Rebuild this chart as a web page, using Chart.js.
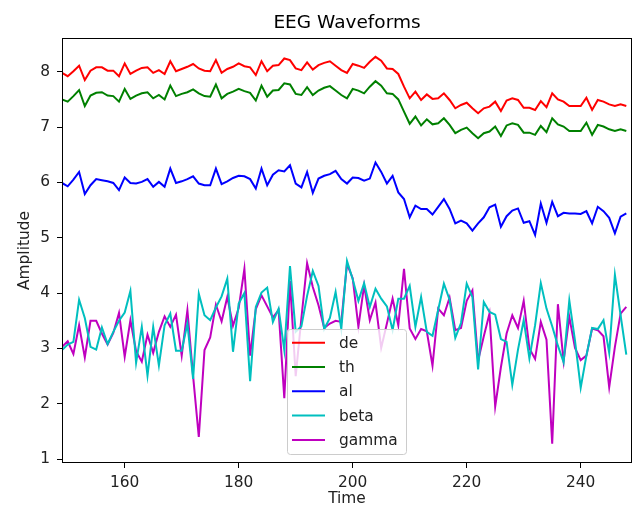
<!DOCTYPE html>
<html>
<head>
<meta charset="utf-8">
<script src="https://cdn.jsdelivr.net/npm/chart.js@4"></script>
<style>
  html, body { margin: 0; padding: 0; background: #fff; }
  #wrap { width: 639px; height: 511px; }
</style>
</head>
<body>
<div id="wrap"><canvas id="chart-eeg" width="639" height="511"></canvas></div>
<script>
// EEG waveforms, values

const tempo = [
  149,150,151,152,153,154,155,156,157,158,159,160,161,162,163,164,165,166,167,168,
  169,170,171,172,173,174,175,176,177,178,179,180,181,182,183,184,185,186,187,188,
  189,190,191,192,193,194,195,196,197,198,199,200,201,202,203,204,205,206,207,208,
  209,210,211,212,213,214,215,216,217,218,219,220,221,222,223,224,225,226,227,228,
  229,230,231,232,233,234,235,236,237,238,239,240,241,242,243,244,245,246,247,248
]

const de = [
  7.98,7.92,8.01,8.11,7.85,8.02,8.08,8.08,8.02,8.02,7.92,8.15,7.96,8.02,8.07,8.08,7.98,8.03,7.96,8.19,
  8.01,8.05,8.09,8.14,8.06,8.02,8.01,8.21,7.98,8.05,8.09,8.15,8.10,8.08,7.94,8.19,8.01,8.11,8.12,8.24,
  8.21,8.06,8.03,8.17,8.04,8.12,8.16,8.19,8.11,8.03,7.98,8.14,8.11,8.07,8.18,8.27,8.20,8.06,8.05,7.96,
  7.73,7.52,7.64,7.49,7.59,7.51,7.52,7.61,7.49,7.34,7.40,7.44,7.34,7.25,7.34,7.37,7.46,7.29,7.48,7.52,
  7.49,7.35,7.35,7.31,7.47,7.36,7.61,7.50,7.46,7.38,7.38,7.38,7.53,7.31,7.49,7.46,7.41,7.38,7.41,7.38
]

const th = [
  7.50,7.46,7.56,7.67,7.38,7.57,7.62,7.63,7.57,7.56,7.46,7.69,7.51,7.57,7.61,7.63,7.52,7.58,7.50,7.75,
  7.56,7.60,7.63,7.68,7.61,7.56,7.55,7.77,7.52,7.60,7.64,7.69,7.65,7.62,7.48,7.75,7.55,7.66,7.67,7.79,
  7.77,7.60,7.58,7.72,7.58,7.66,7.71,7.74,7.66,7.58,7.52,7.69,7.66,7.61,7.73,7.83,7.75,7.61,7.60,7.50,
  7.28,7.06,7.19,7.03,7.14,7.05,7.07,7.16,7.04,6.89,6.95,6.99,6.89,6.80,6.89,6.92,7.01,6.84,7.03,7.07,
  7.04,6.90,6.90,6.86,7.02,6.91,7.16,7.05,7.01,6.93,6.93,6.93,7.08,6.86,7.04,7.01,6.96,6.93,6.96,6.93
]

const al = [
  5.99,5.93,6.05,6.19,5.79,5.95,6.06,6.04,6.02,5.99,5.86,6.09,5.99,5.98,6.01,6.06,5.92,6.01,5.92,6.25,
  5.99,6.02,6.06,6.11,5.98,5.95,5.95,6.25,5.97,6.02,6.08,6.12,6.11,6.06,5.89,6.25,5.95,6.14,6.22,6.20,
  6.31,5.98,5.91,6.19,5.81,6.07,6.12,6.15,6.21,6.06,5.98,6.09,6.08,6.03,6.07,6.36,6.19,5.98,6.12,5.82,
  5.70,5.37,5.58,5.52,5.52,5.42,5.56,5.70,5.52,5.26,5.31,5.26,5.13,5.26,5.37,5.55,5.60,5.20,5.39,5.49,
  5.53,5.27,5.30,5.05,5.62,5.27,5.65,5.39,5.45,5.44,5.44,5.43,5.48,5.26,5.56,5.48,5.36,5.08,5.38,5.44
]

const beta = [
  2.97,3.07,3.12,3.88,3.55,3.03,2.98,3.38,3.08,3.30,3.50,3.65,4.04,2.74,3.39,2.51,3.39,2.69,3.42,3.63,
  2.96,2.96,3.45,2.45,3.99,3.60,3.51,3.74,3.94,4.26,2.94,3.81,4.00,2.41,3.75,4.01,4.10,3.48,3.72,2.97,
  4.49,3.30,3.40,3.95,4.40,4.13,3.35,3.55,4.02,3.35,4.58,4.25,3.86,4.18,3.75,4.08,3.90,3.76,3.33,3.90,
  3.90,4.13,3.39,3.93,3.30,3.23,3.70,4.17,3.88,3.19,3.46,4.17,3.93,2.62,3.84,3.66,3.61,3.17,3.12,2.34,
  2.98,3.51,2.82,3.42,4.18,3.72,3.40,3.05,2.75,3.87,3.14,2.29,2.87,3.37,3.35,3.51,2.92,4.33,3.60,2.89
]

const gamma = [
  3.03,3.13,2.90,3.42,2.84,3.50,3.50,3.27,3.07,3.28,3.64,2.85,3.51,2.95,2.76,3.25,2.92,3.30,3.58,3.39,
  3.61,2.87,3.69,2.50,1.40,2.97,3.20,3.79,3.49,3.93,3.41,3.73,4.44,2.87,3.71,3.96,3.76,3.56,3.69,2.10,
  4.22,2.50,3.55,4.54,4.11,3.78,3.37,3.45,3.50,3.48,4.53,4.27,3.39,4.14,3.51,3.83,3.01,3.45,3.90,3.42,
  4.44,3.36,3.17,3.35,3.31,2.69,3.72,3.60,3.92,3.33,3.37,3.86,4.05,2.78,3.22,3.63,1.95,2.66,3.27,3.60,
  3.37,3.86,3.00,2.81,3.48,3.16,1.28,3.80,2.77,3.57,3.01,2.79,2.87,3.36,3.33,3.22,2.30,3.03,3.63,3.75
]

const nomes     = ["de", "th", "al", "beta", "gamma"]
const series    = [de, th, al, beta, gamma]
const cores     = ["#ff0000", "#008000", "#0000ff", "#00bfbf", "#bf00bf"]
const ticksX    = [160, 180, 200, 220, 240]
const ticksY    = [1, 2, 3, 4, 5, 6, 7, 8]

const FONTE = "'DejaVu Sans', sans-serif"

// moldura, titulo e legenda no estilo matplotlib
const extras = {
  id: "extras",
  afterDraw(chart) {
    const ctx = chart.ctx
    const a = chart.chartArea
    ctx.save()

    ctx.strokeStyle = "#000"
    ctx.lineWidth = 1
    ctx.strokeRect(a.left + 0.5, a.top + 0.5, a.right - a.left - 1, a.bottom - a.top - 1)

    ctx.fillStyle = "#000"
    ctx.font = `18.5px ${FONTE}`
    ctx.textAlign = "center"
    ctx.textBaseline = "alphabetic"
    ctx.fillText("EEG Waveforms", (a.left + a.right) / 2, 28)

    // legenda
    const bx = 287, by = 329, bw = 119, bh = 125
    ctx.globalAlpha = 0.8
    ctx.fillStyle = "#fff"
    ctx.beginPath()
    ctx.roundRect(bx, by, bw, bh, 3)
    ctx.fill()
    ctx.globalAlpha = 1
    ctx.strokeStyle = "#cccccc"
    ctx.lineWidth = 1
    ctx.beginPath()
    ctx.roundRect(bx + 0.5, by + 0.5, bw, bh, 3)
    ctx.stroke()

    ctx.font = `15.4px ${FONTE}`
    ctx.textAlign = "left"
    ctx.textBaseline = "middle"
    nomes.forEach((nome, i) => {
      const y = 342.7 + i * 24.3
      ctx.strokeStyle = cores[i]
      ctx.lineWidth = 2
      ctx.beginPath()
      ctx.moveTo(292, y)
      ctx.lineTo(325, y)
      ctx.stroke()
      ctx.fillStyle = "#222"
      ctx.fillText(nome, 339, y + 1)
    })
    ctx.restore()
  }
}

const ctx = document.getElementById("chart-eeg").getContext("2d")

new Chart(ctx, {
  type: "line",
  data: {
    datasets: series.map((s, i) => ({
      label: nomes[i],
      data: tempo.map((t, j) => ({ x: t, y: s[j] })),
      borderColor: cores[i],
      borderWidth: 2,
      pointRadius: 0,
      tension: 0,
      fill: false
    }))
  },
  options: {
    responsive: false,
    animation: false,
    layout: { padding: { top: 38, right: 7, bottom: 0, left: 0 } },
    plugins: { legend: { display: false }, title: { display: false }, tooltip: { enabled: false } },
    scales: {
      x: {
        type: "linear",
        min: 149, max: 249,
        afterBuildTicks: s => { s.ticks = ticksX.map(v => ({ value: v })) },
        afterFit: s => { s.height = 48 },
        ticks: { color: "#222", font: { family: FONTE, size: 15.4 }, padding: 6, maxRotation: 0 },
        grid: { drawOnChartArea: false, drawTicks: true, tickLength: 5, color: "#000" },
        border: { display: false },
        title: { display: true, text: "Time", color: "#222", font: { family: FONTE, size: 15.4 }, padding: { top: 0, bottom: 3 } }
      },
      y: {
        min: 0.93, max: 8.61,
        afterBuildTicks: s => { s.ticks = ticksY.map(v => ({ value: v })) },
        afterFit: s => { s.width = 62 },
        ticks: { color: "#222", font: { family: FONTE, size: 15.4 }, padding: 7 },
        grid: { drawOnChartArea: false, drawTicks: true, tickLength: 5, color: "#000" },
        border: { display: false },
        title: { display: true, text: "Amplitude", color: "#222", font: { family: FONTE, size: 15.4 }, padding: { top: 16, bottom: 0 } }
      }
    }
  },
  plugins: [extras]
})
</script>
</body>
</html>
